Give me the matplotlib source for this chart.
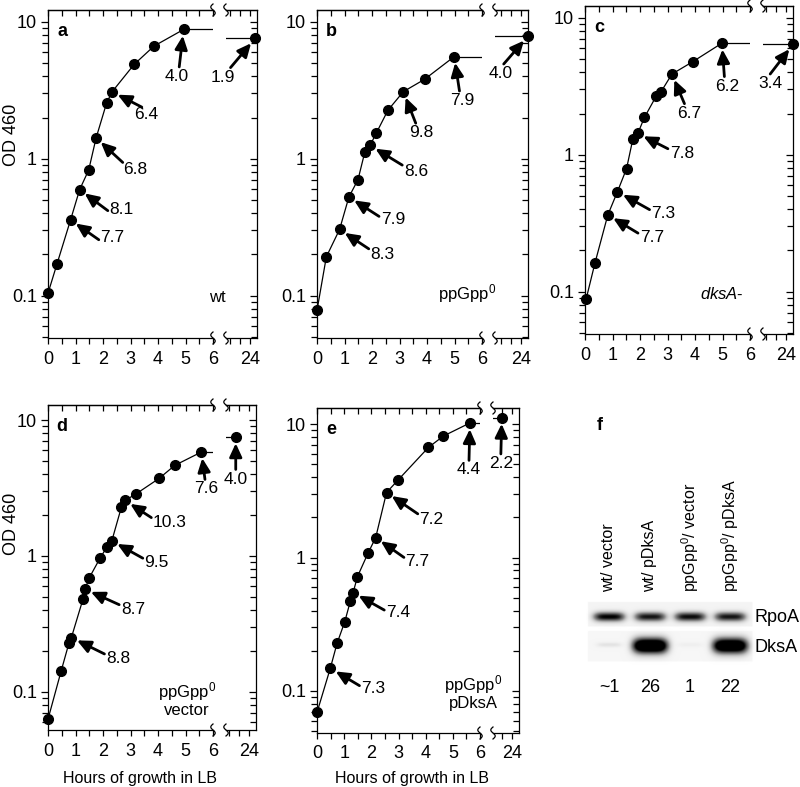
import numpy as np
import matplotlib
matplotlib.use("Agg")
import matplotlib.pyplot as plt
from matplotlib.lines import Line2D
from matplotlib.ticker import FixedLocator, MultipleLocator, NullFormatter, FixedFormatter

plt.rcParams["font.family"] = ["Liberation Sans", "DejaVu Sans"]
plt.rcParams["mathtext.fontset"] = "custom"
plt.rcParams["mathtext.rm"] = "Liberation Sans"
plt.rcParams["mathtext.it"] = "Liberation Sans:italic"

W, H = 800, 787

# ---- growth curves (hours, OD460); late = overnight sample on the "24" segment
a_t = [0, 0.33, 0.82, 1.15, 1.48, 1.75, 2.13, 2.33, 3.13, 3.85, 4.93]
a_od = [0.104, 0.171, 0.357, 0.594, 0.827, 1.42, 2.55, 3.08, 4.88, 6.64, 8.79]
a_late = (24.5, 7.56)
a_rates = [(2, "7.7"), (3, "8.1"), (5, "6.8"), (7, "6.4"), (10, "4.0"), ("late", "1.9")]

b_t = [0, 0.34, 0.82, 1.16, 1.49, 1.74, 1.93, 2.15, 2.58, 3.14, 3.91, 4.99]
b_od = [0.078, 0.192, 0.304, 0.525, 0.702, 1.12, 1.25, 1.53, 2.26, 3.09, 3.80, 5.57]
b_late = (24.7, 7.9)
b_rates = [(2, "8.3"), (3, "7.9"), (6, "8.6"), (9, "9.8"), (11, "7.9"), ("late", "4.0")]

c_t = [0.04, 0.36, 0.83, 1.18, 1.51, 1.74, 1.92, 2.16, 2.59, 2.76, 3.16, 3.91, 4.98]
c_od = [0.088, 0.161, 0.363, 0.537, 0.79, 1.30, 1.43, 1.87, 2.68, 2.87, 3.88, 4.77, 6.53]
c_late = (24.7, 6.42)
c_rates = [(2, "7.7"), (3, "7.3"), (6, "7.8"), (10, "6.7"), (12, "6.2"), ("late", "3.4")]

d_t = [0, 0.48, 0.76, 0.85, 1.27, 1.35, 1.49, 1.90, 2.15, 2.32, 2.67, 2.80, 3.21, 4.04, 4.61, 5.58]
d_od = [0.063, 0.143, 0.228, 0.251, 0.48, 0.569, 0.685, 0.97, 1.17, 1.29, 2.29, 2.56, 2.87,
        3.72, 4.64, 5.82]
d_late = (22.7, 7.5)
d_rates = [(3, "8.8"), (5, "8.7"), (9, "9.5"), (11, "10.3"), (15, "7.6"), ("late", "4.0")]

e_t = [0, 0.49, 0.74, 1.02, 1.23, 1.33, 1.49, 1.88, 2.16, 2.56, 2.99, 4.10, 4.65, 5.63]
e_od = [0.069, 0.148, 0.228, 0.329, 0.473, 0.546, 0.72, 1.08, 1.41, 3.07, 3.82, 6.68, 8.13, 10.2]
e_late = (23.0, 11.2)
e_rates = [(1, "7.3"), (5, "7.4"), (8, "7.7"), (9, "7.2"), (13, "4.4"), ("late", "2.2")]

# ---- western blot (panel f)
lanes = ["wt/ vector", "wt/ pDksA", "ppGpp$^0$/ vector", "ppGpp$^0$/ pDksA"]
rpoa_level = [0.92, 0.85, 0.88, 0.85]
dksa_level = [0.10, 1.0, 0.05, 0.95]
dksa_fold = ["~1", "26", "1", "22"]

# ---- layout (pixels). box: left segment x0,x1 ; right segment x0,x1 ; y top,bottom
# offs: label centre offset from the point (px, y down) and where the arrow leaves the label
panels = [
    dict(t=a_t, od=a_od, late=a_late, rates=a_rates, letter="a", note="wt",
         box=(48, 213, 226, 257, 10, 338), ylim=(0.049, 12.2), note_xy=(217, 298),
         offs=[(42, 18, 0, .3), (42, 20, 0, .35), (39, 32, .05, .9), (34, 23, .4, .95),
               (-7, 47, .6, 1), (-32, 39, .75, 1.05)]),
    dict(t=b_t, od=b_od, late=b_late, rates=b_rates, letter="b", note="ppGpp$^0$",
         box=(317, 482, 495, 528, 10, 338), ylim=(0.049, 12.2), note_xy=(467, 294),
         offs=[(43, 25, 0, .8), (44, 22, 0, .6), (46, 26, 0, .85), (18, 41, .3, 1),
               (8, 44, .4, 1), (-27, 38, .55, 1.05)]),
    dict(t=c_t, od=c_od, late=c_late, rates=c_rates, letter="c", note="$\\it{dksA}$-",
         box=(585, 750, 763, 793, 6, 334), ylim=(0.049, 12.2), note_xy=(722, 294),
         offs=[(44, 23, 0, .75), (46, 22, 0, .7), (44, 20, 0, .75), (17, 39, .35, 1),
               (5, 43, .4, 1), (-23, 39, .45, 1)]),
    dict(t=d_t, od=d_od, late=d_late, rates=d_rates, letter="d", note="ppGpp$^0$\nvector",
         box=(48, 213, 226, 256, 405, 730), ylim=(0.0525, 12.9), note_xy=(187, 699),
         offs=[(47, 21, 0, .75), (48, 20, 0, .75), (45, 22, 0, .75), (45, 22, 0, .75),
               (5, 37, .45, 1), (0, 42, .5, 1)]),
    dict(t=e_t, od=e_od, late=e_late, rates=e_rates, letter="e", note="ppGpp$^0$\npDksA",
         box=(317, 480, 493, 519, 408, 733), ylim=(0.0484, 13.2), note_xy=(473, 692),
         offs=[(43, 20, 0, .6), (45, 20, 0, .6), (42, 24, 0, .7), (45, 27, 0, .8),
               (-1, 47, .5, 1), (-1, 46, .5, 1)]),
]

fig = plt.figure(figsize=(W / 100, H / 100), dpi=100)


def px_axes(x0, x1, y0, y1):
    return fig.add_axes([x0 / W, 1 - y1 / H, (x1 - x0) / W, (y1 - y0) / H])


def ftext(x, y, s, **kw):
    fig.text(x / W, 1 - y / H, s, **kw)


def squiggle(x, y):
    yy = np.linspace(-6, 6, 30)
    xx = x + 2.2 * np.sin(np.pi * yy / 6)
    fig.add_artist(Line2D(xx / W, 1 - (y + yy) / H, color="k", lw=0.9,
                          transform=fig.transFigure))


def style_y(ax, ylim):
    ax.set_yscale("log")
    ax.set_ylim(*ylim)
    ax.yaxis.set_major_locator(FixedLocator([0.1, 1, 10]))
    ax.yaxis.set_minor_locator(FixedLocator(
        [m * 10.0 ** k for k in (-2, -1, 0, 1) for m in range(2, 10)]))
    ax.yaxis.set_minor_formatter(NullFormatter())


for p in panels:
    lx0, lx1, rx0, rx1, yt, yb = p["box"]
    axl = px_axes(lx0, lx1, yt, yb)
    axr = px_axes(rx0, rx1, yt, yb)
    r_lo = 24 - (rx1 - 7 - rx0) / 10.2     # ~10 px per hour on the 24 h segment
    r_hi = 24 + 7 / 10.2

    for ax in (axl, axr):
        style_y(ax, p["ylim"])
        for s in ax.spines.values():
            s.set_linewidth(0.9)
    axl.set_xlim(0, 6)
    axr.set_xlim(r_lo, r_hi)
    axl.spines["right"].set_visible(False)
    axr.spines["left"].set_visible(False)

    axl.set_xticks(range(7))
    axl.xaxis.set_minor_locator(MultipleLocator(0.5))
    axl.yaxis.set_major_formatter(FixedFormatter(["0.1", "1", "10"]))
    axl.tick_params(which="both", direction="out", top=False, right=False,
                    labelsize=13, width=0.9, pad=3)
    axl.tick_params(which="major", length=5)
    axl.tick_params(which="minor", length=4)
    axl.tick_params(axis="x", which="both", length=4, pad=5)

    axr.set_xticks([24])
    axr.set_xticklabels(["24"])
    axr.xaxis.set_minor_locator(FixedLocator([22, 23]))
    axr.tick_params(axis="x", which="both", direction="out", length=4, width=0.9,
                    labelsize=13, pad=5)
    axr.tick_params(axis="y", which="both", direction="in", left=False, right=True,
                    labelleft=False, width=0.9)
    axr.tick_params(axis="y", which="major", length=5)
    axr.tick_params(axis="y", which="minor", length=4)

    for ax, maj, mnr in ((axl, range(7), np.arange(0.5, 6, 1.0)), (axr, [24], [22, 23])):
        top = ax.secondary_xaxis("top")
        top.set_xticks(list(maj))
        top.xaxis.set_minor_locator(FixedLocator(list(mnr)))
        top.tick_params(which="both", direction="in", length=4, width=0.9,
                        labeltop=False)
        top.spines["top"].set_linewidth(0.9)

    t, od = p["t"], p["od"]
    lt, lod = p["late"]
    axl.plot(t, od, "-", color="k", lw=0.9, marker="o", ms=7, clip_on=False, zorder=3)
    axl.plot([t[-1], 6], [od[-1], od[-1]], "-", color="k", lw=0.9)
    axr.plot([r_lo, lt], [lod, lod], "-", color="k", lw=0.9)
    axr.plot([lt], [lod], "o", color="k", ms=7, clip_on=False, zorder=3)

    for (idx, lab), (dx, dy, rx, ry) in zip(p["rates"], p["offs"]):
        ax, xy = (axr, (lt, lod)) if idx == "late" else (axl, (t[idx], od[idx]))
        ax.annotate(lab, xy=xy, xytext=(dx, -dy), textcoords="offset pixels",
                    ha="center", va="center", fontsize=12.5, annotation_clip=False,
                    arrowprops=dict(arrowstyle="-|>,head_length=0.65,head_width=0.3",
                                    color="k", lw=2.0, patchA=None, relpos=(rx, ry),
                                    shrinkA=1.5, shrinkB=4.5))

    for x in (lx1, rx0):
        squiggle(x, yt)
        squiggle(x, yb)

    ftext(lx0 + 14, yt + 22, p["letter"], fontsize=13, fontweight="bold",
          ha="center", va="center")
    ftext(p["note_xy"][0], p["note_xy"][1], p["note"], fontsize=12, ha="center",
          va="center", linespacing=1.0)

ftext(12, 135, "OD 460", rotation=90, fontsize=13, ha="center", va="center")
ftext(12, 524, "OD 460", rotation=90, fontsize=13, ha="center", va="center")
ftext(140, 778, "Hours of growth in LB", fontsize=11.5, ha="center", va="center")
ftext(412, 778, "Hours of growth in LB", fontsize=11.5, ha="center", va="center")

# ---- panel f: western blot
axf = px_axes(560, 800, 400, 720)
axf.set_xlim(560, 800)
axf.set_ylim(720, 400)
axf.axis("off")

lane_x = [609, 650, 690, 730]
xs = np.arange(586, 756, 0.5)
ys = np.arange(600, 666, 0.5)
X, Y = np.meshgrid(xs, ys)
img = np.zeros_like(X)
img[(X >= 588) & (X <= 752) & (Y >= 603) & (Y <= 627)] = 0.09
img[(X >= 588) & (X <= 752) & (Y >= 632) & (Y <= 662)] = 0.07
for cx, lv in zip(lane_x, rpoa_level):
    img += lv * np.exp(-((X - cx) / 16) ** 4 - ((Y - 617.5) / 4.8) ** 2)
for cx, lv in zip(lane_x, dksa_level):
    if lv > 0.5:
        img += 1.4 * lv * np.exp(-((X - cx) / 18) ** 4 - ((Y - 646.5) / 8.0) ** 2)
    else:
        img += 1.3 * lv * np.exp(-((X - cx) / 13) ** 4 - ((Y - 645.5) / 2.5) ** 2)
img = np.clip(img, 0, 1)
axf.imshow(img, cmap="Greys", vmin=0, vmax=1, extent=(xs[0], xs[-1], ys[-1], ys[0]),
           aspect="auto", interpolation="bilinear")

for cx, lab in zip(lane_x, lanes):
    axf.text(cx, 592, lab, rotation=90, ha="center", va="bottom", fontsize=11.5)
for cx, lab in zip(lane_x, dksa_fold):
    axf.text(cx, 688, lab, ha="center", va="center", fontsize=13)
axf.text(755, 617, "RpoA", ha="left", va="center", fontsize=13)
axf.text(755, 647, "DksA", ha="left", va="center", fontsize=13)
axf.text(600, 426, "f", ha="center", va="center", fontsize=13, fontweight="bold")

fig.savefig("out.png", dpi=100)
